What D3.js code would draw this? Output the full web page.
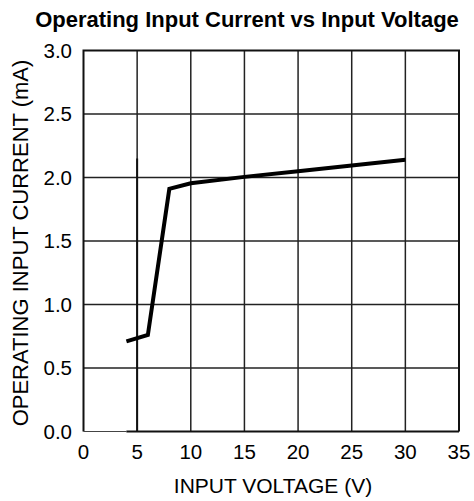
<!DOCTYPE html>
<meta charset="utf-8">
<style>
  body { margin: 0; background: #fff; }
  text { font-family: "Liberation Sans", Arial, Helvetica, sans-serif; fill: #000; }
</style>
<body>
<script src="https://cdn.jsdelivr.net/npm/d3@7"></script>
<script>

// Values
var voltage = [4, 6, 8, 10, 15, 20, 25, 30];
var current = [0.71, 0.76, 1.91, 1.955, 2.005, 2.05, 2.095, 2.14];
var xTicks = [0, 5, 10, 15, 20, 25, 30, 35];
var yTicks = [0, 0.5, 1.0, 1.5, 2.0, 2.5, 3.0];

var W = 474, H = 501;
var margin = {top: 50.5, right: 15, bottom: 69.5, left: 83.5},
    width = W - margin.left - margin.right,
    height = H - margin.top - margin.bottom;

var svg = d3.select("body").append("svg")
    .attr("width", W)
    .attr("height", H);

var g = svg.append("g")
    .attr("transform", "translate(" + margin.left + "," + margin.top + ")");

var x = d3.scaleLinear().domain([0, 35]).range([0, width]);
var y = d3.scaleLinear().domain([0, 3]).range([height, 0]);

// grid lines
g.selectAll(".vgrid")
    .data(xTicks.slice(1, -1))
  .enter().append("line")
    .attr("x1", function(d) { return x(d); })
    .attr("x2", function(d) { return x(d); })
    .attr("y1", 0)
    .attr("y2", height)
    .attr("stroke", "#222")
    .attr("stroke-width", 1.5);

g.selectAll(".hgrid")
    .data(yTicks.slice(1, -1))
  .enter().append("line")
    .attr("x1", 0)
    .attr("x2", width)
    .attr("y1", function(d) { return y(d); })
    .attr("y2", function(d) { return y(d); })
    .attr("stroke", "#222")
    .attr("stroke-width", 1.5);

// darker stub on the 5 V line, as in the original scan
g.append("line")
    .attr("x1", x(5)).attr("x2", x(5))
    .attr("y1", y(2.15)).attr("y2", height)
    .attr("stroke", "#111")
    .attr("stroke-width", 2);

// frame: top, right, left
g.append("path")
    .attr("d", "M0," + height + "V0H" + width + "V" + height)
    .attr("fill", "none")
    .attr("stroke", "#111")
    .attr("stroke-width", 2);

// bottom edge: thin up to 4 V, heavy after
g.append("line")
    .attr("x1", 0).attr("x2", x(4))
    .attr("y1", height).attr("y2", height)
    .attr("stroke", "#444")
    .attr("stroke-width", 1.2);
g.append("line")
    .attr("x1", x(4)).attr("x2", width)
    .attr("y1", height).attr("y2", height)
    .attr("stroke", "#111")
    .attr("stroke-width", 2);

// tick labels
g.selectAll(".xlab")
    .data(xTicks)
  .enter().append("text")
    .attr("x", function(d) { return x(d); })
    .attr("y", height + 27)
    .attr("text-anchor", "middle")
    .style("font-size", "20.5px")
    .text(function(d) { return d; });

g.selectAll(".ylab")
    .data(yTicks)
  .enter().append("text")
    .attr("x", -11.5)
    .attr("y", function(d) { return y(d); })
    .attr("dy", "0.36em")
    .attr("text-anchor", "end")
    .style("font-size", "20.5px")
    .text(function(d) { return d3.format(".1f")(d); });

// the curve
var line = d3.line()
    .x(function(d, i) { return x(voltage[i]); })
    .y(function(d, i) { return y(current[i]); });

g.append("path")
    .datum(current)
    .attr("d", line)
    .attr("fill", "none")
    .attr("stroke", "#000")
    .attr("stroke-width", 4)
    .attr("stroke-linejoin", "miter");

// axis titles
svg.append("text")
    .attr("x", 273)
    .attr("y", 493)
    .attr("text-anchor", "middle")
    .style("font-size", "21px")
    .text("INPUT VOLTAGE (V)");

svg.append("text")
    .attr("transform", "translate(28,243) rotate(-90)")
    .attr("text-anchor", "middle")
    .style("font-size", "22px")
    .text("OPERATING INPUT CURRENT (mA)");

// chart title
svg.append("text")
    .attr("x", 247)
    .attr("y", 27)
    .attr("text-anchor", "middle")
    .style("font-size", "22px")
    .style("font-weight", "bold")
    .text("Operating Input Current vs Input Voltage");

</script>
